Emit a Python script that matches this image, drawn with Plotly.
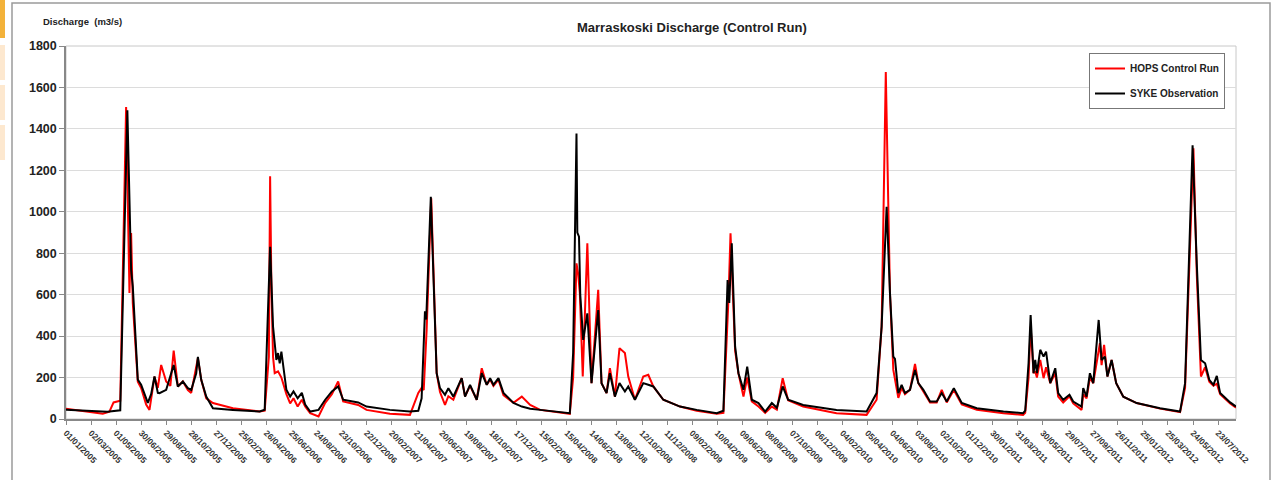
import pandas as pd
import plotly.graph_objects as go

# ---- data -------------------------------------------------------------
tick_labels = [
    "01/01/2005", "02/03/2005", "01/05/2005", "30/06/2005", "29/08/2005", "28/10/2005",
    "27/12/2005", "25/02/2006", "26/04/2006", "25/06/2006", "24/08/2006", "23/10/2006",
    "22/12/2006", "20/02/2007", "21/04/2007", "20/06/2007", "19/08/2007", "18/10/2007",
    "17/12/2007", "15/02/2008", "15/04/2008", "14/06/2008", "13/08/2008", "12/10/2008",
    "11/12/2008", "09/02/2009", "10/04/2009", "09/06/2009", "08/08/2009", "07/10/2009",
    "06/12/2009", "04/02/2010", "05/04/2010", "04/06/2010", "03/08/2010", "02/10/2010",
    "01/12/2010", "30/01/2011", "31/03/2011", "30/05/2011", "29/07/2011", "27/09/2011",
    "26/11/2011", "25/01/2012", "25/03/2012", "24/05/2012", "23/07/2012",
]

# HOPS control run (simulated discharge, m3/s)
hops_dates = [
    "2005-01-01", "2005-02-10", "2005-03-06", "2005-03-30", "2005-04-15", "2005-04-25",
    "2005-05-11", "2005-05-25", "2005-06-02", "2005-06-06", "2005-06-10", "2005-06-22",
    "2005-06-30", "2005-07-12", "2005-07-20", "2005-08-01", "2005-08-09", "2005-08-17",
    "2005-08-29", "2005-09-08", "2005-09-16", "2005-09-26", "2005-10-08", "2005-10-20",
    "2005-10-28", "2005-11-13", "2005-11-21", "2005-12-03", "2005-12-19", "2006-02-05",
    "2006-04-10", "2006-04-22", "2006-05-02", "2006-05-05", "2006-05-08", "2006-05-12",
    "2006-05-16", "2006-05-24", "2006-06-01", "2006-06-13", "2006-06-22", "2006-06-30",
    "2006-07-10", "2006-07-20", "2006-07-28", "2006-08-09", "2006-08-29", "2006-09-14",
    "2006-09-30", "2006-10-15", "2006-10-27", "2006-12-02", "2006-12-22", "2007-02-16",
    "2007-04-05", "2007-04-25", "2007-05-03", "2007-05-08", "2007-05-15", "2007-05-26",
    "2007-06-08", "2007-06-16", "2007-06-28", "2007-07-06", "2007-07-18", "2007-08-07",
    "2007-08-15", "2007-08-27", "2007-09-12", "2007-09-24", "2007-10-06", "2007-10-14",
    "2007-10-22", "2007-11-03", "2007-11-15", "2007-12-09", "2007-12-29", "2008-01-18",
    "2008-02-11", "2008-04-22", "2008-04-30", "2008-05-08", "2008-05-12", "2008-05-16",
    "2008-05-23", "2008-06-03", "2008-06-13", "2008-06-29", "2008-07-07", "2008-07-19",
    "2008-07-27", "2008-08-08", "2008-08-19", "2008-09-01", "2008-09-09", "2008-09-25",
    "2008-10-15", "2008-10-27", "2008-11-08", "2008-12-02", "2009-01-11", "2009-02-20",
    "2009-04-09", "2009-04-25", "2009-05-07", "2009-05-12", "2009-05-23", "2009-05-31",
    "2009-06-12", "2009-06-21", "2009-07-02", "2009-07-18", "2009-08-03", "2009-08-19",
    "2009-08-31", "2009-09-14", "2009-09-27", "2009-11-02", "2010-01-21", "2010-04-03",
    "2010-04-27", "2010-05-09", "2010-05-19", "2010-05-29", "2010-06-06", "2010-06-18",
    "2010-06-26", "2010-07-04", "2010-07-16", "2010-07-28", "2010-08-05", "2010-08-17",
    "2010-09-02", "2010-09-18", "2010-09-30", "2010-10-12", "2010-10-29", "2010-11-17",
    "2010-12-23", "2011-02-25", "2011-04-13", "2011-04-18", "2011-04-26", "2011-05-01",
    "2011-05-08", "2011-05-12", "2011-05-16", "2011-05-24", "2011-06-01", "2011-06-07",
    "2011-06-17", "2011-06-29", "2011-07-06", "2011-07-18", "2011-08-02", "2011-08-11",
    "2011-08-31", "2011-09-04", "2011-09-12", "2011-09-20", "2011-09-28", "2011-10-14",
    "2011-10-18", "2011-10-24", "2011-11-01", "2011-11-11", "2011-11-22", "2011-12-09",
    "2012-01-10", "2012-03-06", "2012-04-23", "2012-05-05", "2012-05-25", "2012-06-02",
    "2012-06-12", "2012-06-22", "2012-07-02", "2012-07-12", "2012-07-20", "2012-07-28",
    "2012-08-09", "2012-08-21", "2012-09-04",
]
hops_q = [
    50, 40, 32, 25, 35, 80,
    88, 1506, 608, 897, 560, 180,
    150, 70, 44, 204, 150, 261,
    181, 160, 330, 157, 181, 140,
    126, 293, 189, 100, 77, 52,
    36, 40, 300, 1172, 650, 300,
    221, 230, 200, 120, 75, 100,
    60, 93, 60, 28, 12, 78,
    120, 181, 85, 68, 44, 25,
    20, 126, 150, 140, 430, 1065,
    221, 130, 68, 110, 93, 197,
    110, 160, 93, 245, 165, 190,
    160, 190, 115, 78, 108, 68,
    44, 25, 200, 751, 700, 608,
    205, 848, 173, 623, 173, 125,
    245, 108, 342, 318, 205, 93,
    205, 213, 157, 93, 60, 40,
    25, 30, 574, 896, 330, 221,
    108, 200, 85, 60, 30, 60,
    45, 197, 90, 60, 28, 20,
    93, 446, 1675, 607, 237, 102,
    150, 120, 141, 266, 173, 135,
    80, 80, 141, 80, 140, 70,
    45, 28, 20, 30, 200, 446,
    221, 230, 200, 285, 197, 250,
    173, 220, 108, 80, 110, 75,
    44, 120, 100, 200, 173, 366,
    260, 358, 205, 285, 173, 108,
    77, 50, 33, 150, 1306, 700,
    205, 250, 180, 160, 170, 120,
    95, 75, 55,
]

# SYKE observed discharge (m3/s)
syke_dates = [
    "2005-01-01", "2005-02-10", "2005-03-06", "2005-04-10", "2005-05-11", "2005-05-28",
    "2005-06-06", "2005-06-10", "2005-06-22", "2005-06-30", "2005-07-16", "2005-07-24",
    "2005-08-01", "2005-08-09", "2005-08-13", "2005-08-29", "2005-09-16", "2005-09-26",
    "2005-10-08", "2005-10-20", "2005-10-28", "2005-11-09", "2005-11-13", "2005-11-21",
    "2005-12-03", "2005-12-19", "2006-02-05", "2006-04-10", "2006-04-22", "2006-05-05",
    "2006-05-12", "2006-05-20", "2006-05-24", "2006-05-28", "2006-06-01", "2006-06-13",
    "2006-06-22", "2006-06-30", "2006-07-10", "2006-07-20", "2006-07-28", "2006-08-09",
    "2006-08-29", "2006-09-14", "2006-09-30", "2006-10-15", "2006-10-27", "2006-12-02",
    "2006-12-22", "2007-02-16", "2007-04-05", "2007-04-25", "2007-05-03", "2007-05-07",
    "2007-05-11", "2007-05-14", "2007-05-25", "2007-06-08", "2007-06-16", "2007-06-28",
    "2007-07-06", "2007-07-18", "2007-08-07", "2007-08-15", "2007-08-27", "2007-09-12",
    "2007-09-24", "2007-10-06", "2007-10-14", "2007-10-22", "2007-11-03", "2007-11-15",
    "2007-12-09", "2007-12-29", "2008-01-18", "2008-02-11", "2008-04-22", "2008-04-30",
    "2008-05-08", "2008-05-10", "2008-05-14", "2008-05-17", "2008-05-24", "2008-06-03",
    "2008-06-13", "2008-06-29", "2008-07-07", "2008-07-19", "2008-07-27", "2008-08-08",
    "2008-08-19", "2008-09-01", "2008-09-09", "2008-09-25", "2008-10-15", "2008-10-27",
    "2008-11-08", "2008-12-02", "2009-01-11", "2009-02-20", "2009-04-09", "2009-04-25",
    "2009-05-05", "2009-05-09", "2009-05-15", "2009-05-23", "2009-05-31", "2009-06-12",
    "2009-06-21", "2009-07-02", "2009-07-18", "2009-08-03", "2009-08-19", "2009-08-31",
    "2009-09-14", "2009-09-27", "2009-11-02", "2010-01-21", "2010-04-03", "2010-04-27",
    "2010-05-09", "2010-05-21", "2010-05-29", "2010-06-06", "2010-06-10", "2010-06-18",
    "2010-06-26", "2010-07-04", "2010-07-16", "2010-07-28", "2010-08-05", "2010-08-17",
    "2010-09-02", "2010-09-18", "2010-09-30", "2010-10-12", "2010-10-29", "2010-11-17",
    "2010-12-23", "2011-02-25", "2011-04-13", "2011-04-18", "2011-04-26", "2011-05-01",
    "2011-05-08", "2011-05-12", "2011-05-16", "2011-05-24", "2011-06-01", "2011-06-07",
    "2011-06-17", "2011-06-29", "2011-07-06", "2011-07-18", "2011-08-02", "2011-08-11",
    "2011-08-31", "2011-09-04", "2011-09-12", "2011-09-20", "2011-09-28", "2011-10-11",
    "2011-10-18", "2011-10-26", "2011-11-01", "2011-11-11", "2011-11-22", "2011-12-09",
    "2012-01-10", "2012-03-06", "2012-04-23", "2012-05-05", "2012-05-23", "2012-06-02",
    "2012-06-12", "2012-06-22", "2012-07-02", "2012-07-12", "2012-07-20", "2012-07-28",
    "2012-08-09", "2012-08-21", "2012-09-04",
]
syke_q = [
    45, 40, 36, 35, 42, 1490,
    720, 640, 190, 165, 78, 120,
    205, 126, 125, 141, 261, 157,
    181, 149, 140, 221, 300, 189,
    108, 52, 44, 36, 45, 831,
    446, 285, 318, 269, 325, 141,
    108, 133, 100, 126, 70, 36,
    44, 93, 133, 157, 93, 80,
    60, 44, 36, 40, 100, 285,
    520, 480, 1072, 221, 149, 117,
    148, 108, 197, 108, 165, 93,
    221, 165, 197, 165, 197, 126,
    78, 60, 50, 44, 28, 319,
    1378, 900, 880, 600, 382, 510,
    173, 526, 173, 125, 221, 108,
    173, 133, 157, 93, 173, 165,
    157, 93, 60, 44, 28, 40,
    671, 560, 848, 350, 221, 141,
    253, 93, 77, 36, 77, 54,
    157, 93, 68, 44, 36, 125,
    446, 1024, 607, 301, 290, 125,
    165, 125, 141, 237, 173, 141,
    84, 84, 125, 84, 149, 77,
    52, 36, 28, 40, 269, 502,
    221, 285, 221, 334, 301, 325,
    173, 245, 125, 93, 117, 84,
    60, 149, 108, 221, 173, 478,
    285, 301, 205, 285, 173, 108,
    77, 52, 36, 173, 1321, 751,
    285, 269, 189, 165, 208, 125,
    101, 80, 60,
]

# ---- figure -------------------------------------------------------------
W, H = 1282, 480
L, R, T, B = 66, 46, 46, 61
PW, PH = W - L - R, H - T - B


def px(x):
    return (x - L) / PW


def py(y):
    return (H - B - y) / PH


FONT = "Liberation Sans, Arial, sans-serif"
tick_vals = pd.to_datetime(tick_labels, format="%d/%m/%Y")

fig = go.Figure()
fig.add_trace(go.Scatter(
    x=pd.to_datetime(hops_dates), y=hops_q, mode="lines", name="HOPS Control Run",
    line=dict(color="#ff0000", width=2), legendgroup="a",
))
fig.add_trace(go.Scatter(
    x=pd.to_datetime(syke_dates), y=syke_q, mode="lines", name="SYKE Observation",
    line=dict(color="#000000", width=2), legendgroup="b",
))

shapes = [
    # plot box
    dict(type="rect", xref="paper", yref="paper", x0=0, x1=1, y0=0, y1=1,
         line=dict(color="#c8c8c8", width=1), layer="below"),
    # chart frame
    dict(type="rect", xref="paper", yref="paper", x0=px(12), x1=px(1270),
         y0=py(490), y1=py(3), line=dict(color="#9a9a9a", width=1.5), layer="below"),
    # side tabs
    dict(type="rect", xref="paper", yref="paper", x0=px(-2), x1=px(5),
         y0=py(38), y1=py(-2), fillcolor="#f3b23a", line=dict(width=0)),
]
for top, bot in [(45, 80), (85, 120), (125, 160)]:
    shapes.append(dict(type="rect", xref="paper", yref="paper", x0=px(-2), x1=px(5),
                       y0=py(bot), y1=py(top), fillcolor="#fde8cf", line=dict(width=0)))

fig.update_layout(
    width=W, height=H,
    margin=dict(l=L, r=R, t=T, b=B, autoexpand=False),
    paper_bgcolor="white", plot_bgcolor="white",
    font=dict(family=FONT, color="#222222"),
    showlegend=True,
    legend=dict(
        x=px(1225), y=py(53), xanchor="right", yanchor="top",
        bgcolor="white", bordercolor="#777777", borderwidth=1,
        font=dict(family=FONT, size=10, color="#222222", weight="bold"),
        traceorder="grouped", tracegroupgap=6,
    ),
    shapes=shapes,
    annotations=[
        dict(text="Marraskoski Discharge (Control Run)", xref="paper", yref="paper",
             x=px(692), y=py(28), xanchor="center", yanchor="middle", showarrow=False,
             font=dict(family=FONT, size=13, color="#222222", weight="bold")),
        dict(text="Discharge  (m3/s)", xref="paper", yref="paper",
             x=px(41), y=py(22), xanchor="left", yanchor="middle", showarrow=False,
             font=dict(family=FONT, size=9.5, color="#222222", weight="bold")),
    ],
)

fig.update_xaxes(
    type="date", range=["2005-01-01", "2012-09-04"],
    tickmode="array", tickvals=tick_vals, ticktext=tick_labels, tickangle=45,
    tickfont=dict(family=FONT, size=8.5, color="#333333", weight="bold"),
    ticks="outside", ticklen=4, tickcolor="#888888",
    showline=True, linecolor="#888888", linewidth=1.5,
    showgrid=False, zeroline=False, automargin=False,
)
fig.update_yaxes(
    range=[0, 1800], dtick=200, tick0=0,
    tickfont=dict(family=FONT, size=12.5, color="#222222", weight="bold"),
    ticks="outside", ticklen=5, tickcolor="#888888",
    showline=True, linecolor="#888888", linewidth=1.5,
    showgrid=True, gridcolor="#dcdcdc", gridwidth=1, zeroline=False, automargin=False,
)

fig.write_html("out.html")
